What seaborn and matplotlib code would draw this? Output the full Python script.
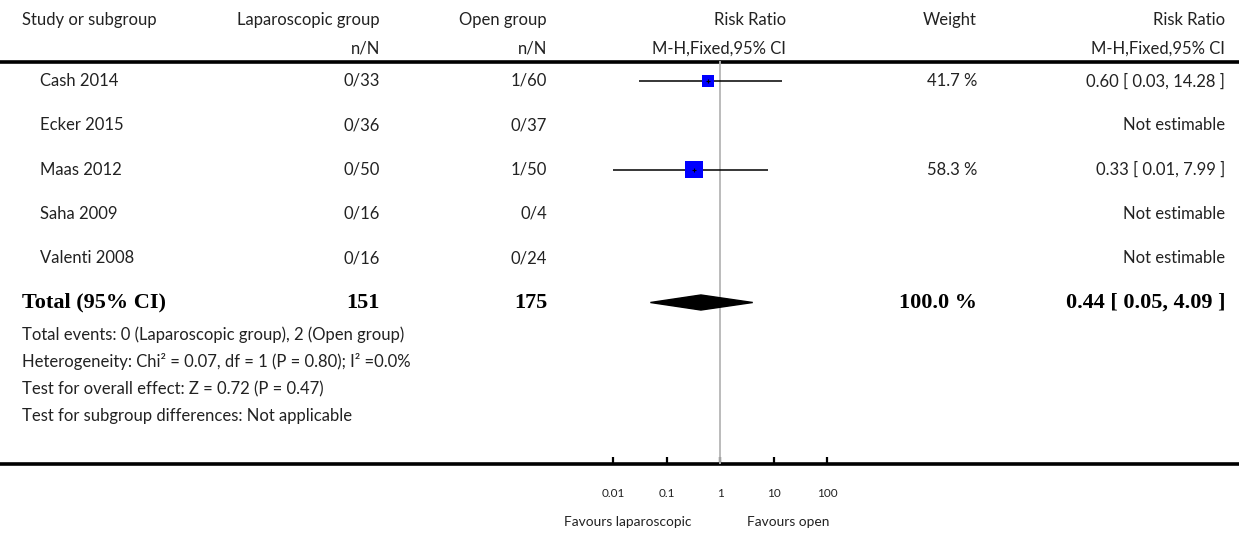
import numpy as np
import pandas as pd
import matplotlib
matplotlib.use('Agg')
import matplotlib.pyplot as plt
import matplotlib.transforms as mtransforms
import seaborn as sns

# dados do forest plot
studies = ['Cash 2014', 'Ecker 2015', 'Maas 2012', 'Saha 2009', 'Valenti 2008']
lap_events = [0, 0, 0, 0, 0]
lap_total = [33, 36, 50, 16, 16]
open_events = [1, 0, 1, 0, 0]
open_total = [60, 37, 50, 4, 24]
rr = [0.60, np.nan, 0.33, np.nan, np.nan]
rr_lo = [0.03, np.nan, 0.01, np.nan, np.nan]
rr_hi = [14.28, np.nan, 7.99, np.nan, np.nan]
weights = [41.7, np.nan, 58.3, np.nan, np.nan]

total_lap = 151
total_open = 175
total_weight = 100.0
total_rr = 0.44
total_lo = 0.05
total_hi = 4.09

footer_lines = [
    'Total events: 0 (Laparoscopic group), 2 (Open group)',
    'Heterogeneity: Chi\u00b2 = 0.07, df = 1 (P = 0.80); I\u00b2 =0.0%',
    'Test for overall effect: Z = 0.72 (P = 0.47)',
    'Test for subgroup differences: Not applicable',
]
tick_values = [0.01, 0.1, 1, 10, 100]
tick_labels = ['0.01', '0.1', '1', '10', '100']

df = pd.DataFrame({'study': studies, 'rr': rr, 'lo': rr_lo, 'hi': rr_hi,
                   'weight': weights})
df['row'] = np.arange(len(df))

sns.set_style('white')
plt.rcParams['font.family'] = ['Lato', 'DejaVu Sans']
plt.rcParams['text.color'] = '#222222'
plt.rcParams['xtick.color'] = '#222222'

W, H = 1239, 535
fig = plt.figure(figsize=(W / 100, H / 100), dpi=100)

# eixo de fundo em pixels para o texto
bg = fig.add_axes([0, 0, 1, 1])
bg.set_xlim(0, W)
bg.set_ylim(H, 0)
bg.axis('off')

# eixo do forest plot (escala log)
top_px, bot_px = 61.5, 464
row0_px, row_h = 81, 44.3
fax = fig.add_axes([559.5 / W, 1 - bot_px / H, 321 / W, (bot_px - top_px) / H])
fax.set_xscale('log')
fax.set_xlim(1e-3, 1e3)
fax.set_ylim((bot_px - row0_px) / row_h, (top_px - row0_px) / row_h)
fax.patch.set_alpha(0)
for s in fax.spines.values():
    s.set_visible(False)
fax.set_xticks(tick_values)
fax.set_xticklabels(tick_labels)
fax.minorticks_off()
fax.tick_params(axis='x', direction='in', length=5, width=1.6, color='black',
                pad=17.5, labelsize=8.5, bottom=True)
fax.set_yticks([])
fax.set_xlabel('')
fax.set_ylabel('')

bg.axhline(top_px, color='black', lw=2.6)
bg.axhline(bot_px, color='black', lw=2.6)

fax.axvline(1, color='#b5b5b5', lw=1.3, zorder=1)

est = df.dropna(subset=['rr'])
fax.hlines(est['row'], est['lo'], est['hi'], color='black', lw=1.1, zorder=2)
sizes = ((est['weight'] * 0.3 * 0.72) ** 2).tolist()
sns.scatterplot(x=est['rr'].tolist(), y=est['row'].tolist(), s=sizes, marker='s',
                color='#0000ff', edgecolor='none', ax=fax, legend=False, zorder=3)
fax.scatter(est['rr'], est['row'], marker='+', s=12, color='black', lw=0.8, zorder=4)

total_row = len(studies)
dh = 0.17
fax.fill([total_lo, total_rr, total_hi, total_rr],
         [total_row, total_row - dh, total_row, total_row + dh],
         color='black', zorder=3)

# texto
trans = mtransforms.blended_transform_factory(bg.transData, fax.transData)
fs = 12
col_study, col_lap, col_open, col_rr_h, col_w, col_rr = 40, 380, 547, 786, 977, 1225

bg.text(22, 20, 'Study or subgroup', ha='left', va='center', fontsize=fs)
bg.text(col_lap, 20, 'Laparoscopic group', ha='right', va='center', fontsize=fs)
bg.text(col_lap, 49, 'n/N', ha='right', va='center', fontsize=fs)
bg.text(col_open, 20, 'Open group', ha='right', va='center', fontsize=fs)
bg.text(col_open, 49, 'n/N', ha='right', va='center', fontsize=fs)
bg.text(col_rr_h, 20, 'Risk Ratio', ha='right', va='center', fontsize=fs)
bg.text(col_rr_h, 49, 'M-H,Fixed,95% CI', ha='right', va='center', fontsize=fs)
bg.text(col_w, 20, 'Weight', ha='right', va='center', fontsize=fs)
bg.text(col_rr, 20, 'Risk Ratio', ha='right', va='center', fontsize=fs)
bg.text(col_rr, 49, 'M-H,Fixed,95% CI', ha='right', va='center', fontsize=fs)

for i, r in df.iterrows():
    bg.text(col_study, r['row'], r['study'], transform=trans, ha='left', va='center',
            fontsize=fs)
    bg.text(col_lap, r['row'], f'{lap_events[i]}/{lap_total[i]}', transform=trans,
            ha='right', va='center', fontsize=fs)
    bg.text(col_open, r['row'], f'{open_events[i]}/{open_total[i]}', transform=trans,
            ha='right', va='center', fontsize=fs)
    if np.isnan(r['rr']):
        bg.text(col_rr, r['row'], 'Not estimable', transform=trans, ha='right',
                va='center', fontsize=fs)
    else:
        bg.text(col_w, r['row'], f"{r['weight']:.1f} %", transform=trans, ha='right',
                va='center', fontsize=fs)
        bg.text(col_rr, r['row'], f"{r['rr']:.2f} [ {r['lo']:.2f}, {r['hi']:.2f} ]",
                transform=trans, ha='right', va='center', fontsize=fs)

bold = dict(family='Liberation Serif', weight='bold', fontsize=16, va='center',
            color='black', transform=trans)
bg.text(22, total_row, 'Total (95% CI)', ha='left', **bold)
bg.text(col_lap, total_row, f'{total_lap}', ha='right', **bold)
bg.text(col_open, total_row, f'{total_open}', ha='right', **bold)
bg.text(col_w, total_row, f'{total_weight:.1f} %', ha='right', **bold)
bg.text(col_rr, total_row, f'{total_rr:.2f} [ {total_lo:.2f}, {total_hi:.2f} ]',
        ha='right', **bold)

for k, line in enumerate(footer_lines):
    bg.text(22, total_row + 0.73 + 0.61 * k, line, transform=trans, ha='left',
            va='center', fontsize=fs)

bg.text(692, 522, 'Favours laparoscopic', ha='right', va='center', fontsize=9.9)
bg.text(747, 522, 'Favours open', ha='left', va='center', fontsize=9.9)

plt.savefig('out.png', dpi=100)
